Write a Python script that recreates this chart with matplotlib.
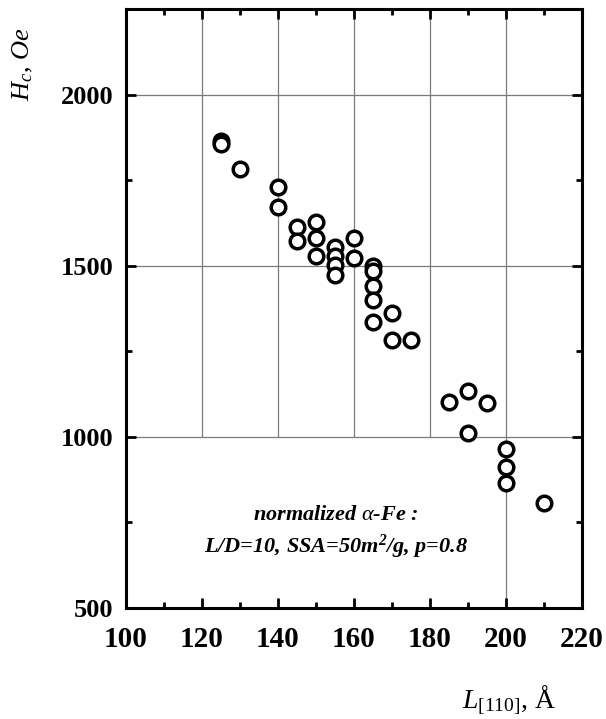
import numpy as np
import matplotlib
matplotlib.use("Agg")
import matplotlib.pyplot as plt
from matplotlib.ticker import MultipleLocator

plt.rcParams['font.family'] = ['Liberation Serif', 'DejaVu Serif']
plt.rcParams['mathtext.fontset'] = 'custom'
plt.rcParams['mathtext.rm'] = 'Liberation Serif'
plt.rcParams['mathtext.it'] = 'Liberation Serif:italic'
plt.rcParams['mathtext.bf'] = 'Liberation Serif:bold:italic'

# grain size L[110] (A) vs coercivity Hc (Oe)
L110 = [125, 125, 130, 140, 140, 145, 145, 150, 150, 150,
        155, 155, 155, 155, 160, 160, 165, 165, 165, 165, 165,
        170, 170, 175, 185, 190, 190, 195, 200, 200, 200, 210]
Hc = [1865, 1857, 1783, 1729, 1671, 1613, 1573, 1627, 1580, 1527,
      1555, 1527, 1503, 1474, 1580, 1522, 1500, 1485, 1440, 1400, 1335,
      1362, 1282, 1282, 1103, 1135, 1011, 1099, 964, 911, 866, 806]

x_ticks = [100, 120, 140, 160, 180, 200, 220]
y_ticks = [500, 1000, 1500, 2000]

fig = plt.figure(figsize=(6.06, 7.19), dpi=100)
ax = fig.add_axes([0.208, 0.1544, 0.752, 0.8331])

# partial grid as in the original: verticals stop at 1000 except 200
grid_kw = dict(color='#7a7a7a', lw=0.9, zorder=1)
for gx in [120, 140, 160, 180]:
    ax.vlines(gx, 1000, 2250, **grid_kw)
ax.vlines(200, 500, 2250, **grid_kw)
for gy in [1000, 1500, 2000]:
    ax.hlines(gy, 100, 220, **grid_kw)

ax.plot(L110, Hc, 'o', ms=10.5, mfc='white', mec='black', mew=2.5, zorder=3)

ax.set_xlim(100, 220)
ax.set_ylim(500, 2250)
ax.set_xticks(x_ticks)
ax.set_yticks(y_ticks)
ax.xaxis.set_minor_locator(MultipleLocator(10))
ax.yaxis.set_minor_locator(MultipleLocator(250))
ax.tick_params(which='both', direction='in', top=True, right=True, width=2)
ax.tick_params(which='major', length=7)
ax.tick_params(which='minor', length=4.5)
ax.tick_params(axis='x', which='major', pad=13, labelsize=21)
ax.tick_params(axis='y', which='major', pad=9, labelsize=19)
plt.setp(ax.get_xticklabels() + ax.get_yticklabels(), fontweight='bold')
for s in ax.spines.values():
    s.set_linewidth(2.2)

ax.text(155.3, 757, r'normalized $\alpha$-Fe :', ha='center', va='baseline',
        fontsize=16, fontweight='bold', style='italic')
ax.text(155.3, 661, r'L/D=10, SSA=50m$^{\mathbf{2}}$/g, p=0.8', ha='center',
        va='baseline', fontsize=16, fontweight='bold', style='italic')

fig.text(0.038, 0.911, r'$H_c$, $Oe$', rotation=90, ha='center', va='center',
         fontsize=19)
fig.text(0.84, 0.014, r'$L_{\mathit{[110]}}$, Å', ha='center', va='baseline',
         fontsize=20)

fig.savefig('out.png', dpi=100)
